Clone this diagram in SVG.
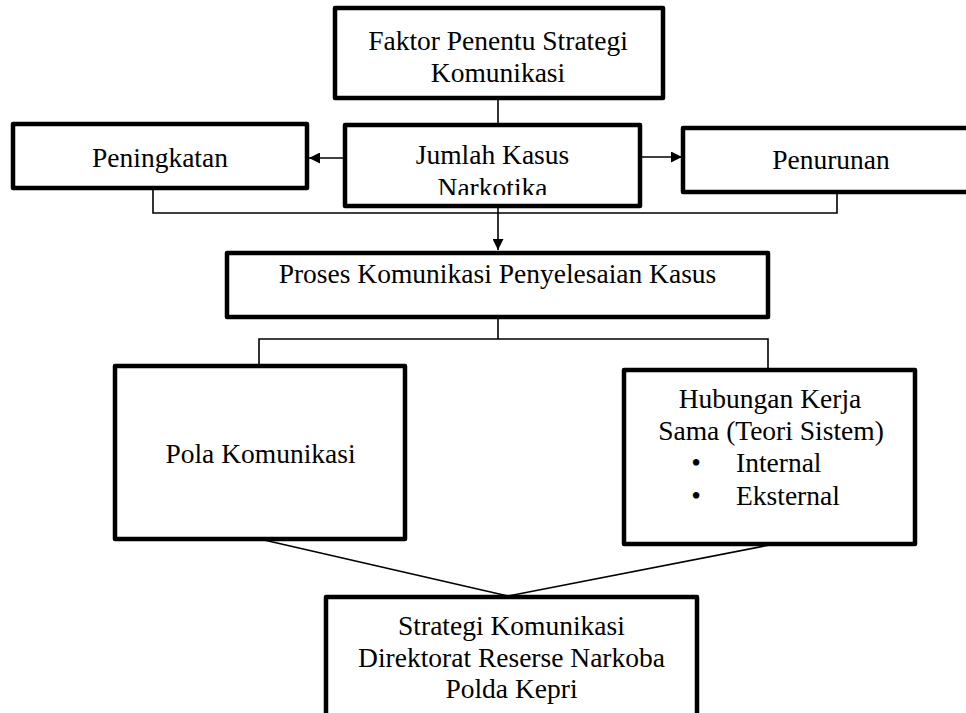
<svg xmlns="http://www.w3.org/2000/svg" width="966" height="713" viewBox="0 0 966 713">
<style>
.box{fill:#fff;stroke:#000;stroke-width:4.5;stroke-linejoin:round}
.ln{fill:none;stroke:#000;stroke-width:1.6}
.t{font-family:'Liberation Serif','Times New Roman','DejaVu Serif',serif;font-size:27.5px;fill:#000}
.c{text-anchor:middle}
</style>
<defs>
<marker id="ah" viewBox="0 0 10 10" refX="10" refY="5" markerWidth="13" markerHeight="11" markerUnits="userSpaceOnUse" orient="auto">
<path d="M0,0 L10,5 L0,10 Z" fill="#000"/>
</marker>
<clipPath id="jclip"><rect x="345" y="125" width="295" height="70"/></clipPath>
</defs>
<rect width="966" height="713" fill="#fff"/>
<g id="connectors">
<line class="ln" x1="498" y1="98" x2="498" y2="125"/>
<line class="ln" x1="345" y1="158" x2="309" y2="158" marker-end="url(#ah)"/>
<line class="ln" x1="640" y1="157" x2="682" y2="157" marker-end="url(#ah)"/>
<polyline class="ln" points="153,188 153,213 837,213 837,192"/>
<line class="ln" x1="498" y1="206" x2="498" y2="250" marker-end="url(#ah)"/>
<line class="ln" x1="498" y1="317" x2="498" y2="339"/>
<polyline class="ln" points="259,365 259,339 768,339 768,370"/>
<line class="ln" x1="264" y1="540" x2="508" y2="596"/>
<line class="ln" x1="775" y1="544" x2="508" y2="596"/>
</g>
<g class="t" font-family="Liberation Serif, Times New Roman, DejaVu Serif, serif">
<g id="faktor">
<rect class="box" x="335" y="8" width="328" height="90"/>
<text class="c" x="498" y="50">Faktor Penentu Strategi</text>
<text class="c" x="498" y="82">Komunikasi</text>
</g>
<g id="peningkatan">
<rect class="box" x="13" y="124" width="294" height="64"/>
<text class="c" x="160" y="167">Peningkatan</text>
</g>
<g id="jumlah">
<rect class="box" x="345" y="125" width="295" height="81"/>
<g clip-path="url(#jclip)">
<text class="c" x="492.5" y="164">Jumlah Kasus</text>
<text class="c" x="492.5" y="197">Narkotika</text>
</g>
</g>
<g id="penurunan">
<rect class="box" x="683" y="128" width="300" height="64"/>
<text class="c" x="831" y="169">Penurunan</text>
</g>
<g id="proses">
<rect class="box" x="227" y="253" width="541" height="64"/>
<text class="c" x="497.5" y="283">Proses Komunikasi Penyelesaian Kasus</text>
</g>
<g id="pola">
<rect class="box" x="115" y="366" width="290" height="173"/>
<text class="c" x="260.5" y="463">Pola Komunikasi</text>
</g>
<g id="hubungan">
<rect class="box" x="624" y="370" width="291" height="174"/>
<text class="c" x="770" y="408">Hubungan Kerja</text>
<text class="c" x="771" y="440">Sama (Teori Sistem)</text>
<text class="c" x="696" y="472">•</text>
<text x="736" y="472">Internal</text>
<text class="c" x="696" y="505">•</text>
<text x="736" y="505">Eksternal</text>
</g>
<g id="strategi">
<rect class="box" x="326" y="597" width="371" height="130"/>
<text class="c" x="511.5" y="635">Strategi Komunikasi</text>
<text class="c" x="511.5" y="667">Direktorat Reserse Narkoba</text>
<text class="c" x="511.5" y="698">Polda Kepri</text>
</g>
</g>
</svg>
